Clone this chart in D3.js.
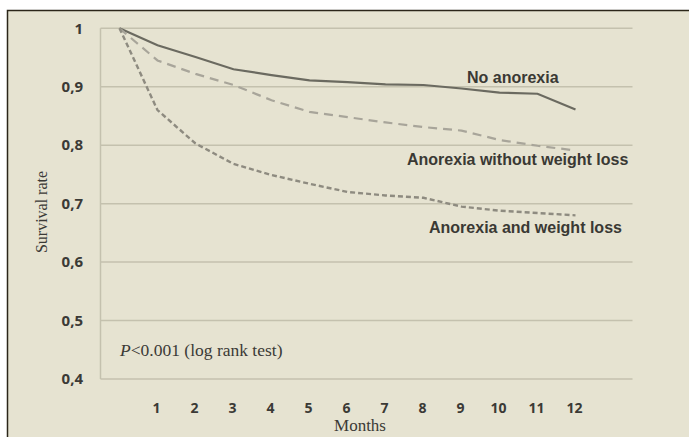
<!DOCTYPE html>
<html>
<head>
  <meta charset="utf-8"/>
  <title>Survival rate</title>
  <script src="https://cdn.jsdelivr.net/npm/d3@7"></script>
<style>
body { margin: 0; background: #fff; }
.chart text.tick-label { font-weight: bold; font-family: "Open Sans", sans-serif; fill: #3b3a36; }
.chart text.series-label { font: bold 16px "Liberation Sans", Arial, sans-serif; fill: #3a3934; }
.chart text.serif { font-family: "Liberation Serif", "Times New Roman", serif; fill: #3b3a36; }
</style>
</head>
<body>
  <svg id="chart" class="chart"></svg>

  <script>
    // months 0..12
    var months = [0, 1, 2, 3, 4, 5, 6, 7, 8, 9, 10, 11, 12];
    var noAnorexia = [1, 0.971, 0.951, 0.930, 0.920, 0.911, 0.908, 0.904, 0.903, 0.897, 0.890, 0.888, 0.861];
    var anorexiaNoLoss = [1, 0.945, 0.922, 0.903, 0.877, 0.857, 0.848, 0.839, 0.831, 0.825, 0.809, 0.799, 0.791];
    var anorexiaLoss = [1, 0.860, 0.803, 0.768, 0.749, 0.734, 0.720, 0.714, 0.710, 0.695, 0.688, 0.684, 0.680];
    var seriesNames = ["No anorexia", "Anorexia without weight loss", "Anorexia and weight loss"];
    var yTicks = [0.4, 0.5, 0.6, 0.7, 0.8, 0.9, 1];
    var xTicks = [1, 2, 3, 4, 5, 6, 7, 8, 9, 10, 11, 12];

    var width = 689, height = 437;

    var svg = d3.select("#chart")
        .attr("width", width)
        .attr("height", height);

    // beige panel with dark frame on top and left
    svg.append("rect")
        .attr("x", 7).attr("y", 10)
        .attr("width", width - 7).attr("height", height - 10)
        .attr("fill", "#e6e3d1");
    svg.append("path")
        .attr("d", "M7.5," + height + "V10.5H" + width)
        .attr("fill", "none")
        .attr("stroke", "#2b2619")
        .attr("stroke-width", 1.5);

    var x = d3.scaleLinear().domain([-0.5, 13.5]).range([100.5, 632.5]);
    var y = d3.scaleLinear().domain([0.4, 1]).range([379, 28.3]);

    // gridlines
    svg.append("g")
      .selectAll("line")
      .data(yTicks)
      .join("line")
        .attr("x1", x(-0.5)).attr("x2", x(13.5))
        .attr("y1", function(d) { return y(d); })
        .attr("y2", function(d) { return y(d); })
        .attr("stroke", "#c4c1ae")
        .attr("stroke-width", 1.5);

    svg.append("line")
        .attr("x1", x(-0.5)).attr("x2", x(-0.5))
        .attr("y1", y(1)).attr("y2", y(0.4))
        .attr("stroke", "#c4c1ae")
        .attr("stroke-width", 1.5);

    // y tick labels
    var fmt = function(d) { return d === 1 ? "1" : d3.format(".1f")(d).replace(".", ","); };
    svg.append("g")
      .selectAll("text")
      .data(yTicks)
      .join("text")
        .attr("class", "tick-label")
        .attr("font-size", 15)
        .attr("x", 83)
        .attr("y", function(d) { return y(d); })
        .attr("dy", "0.35em")
        .attr("text-anchor", "end")
        .text(fmt);

    // x tick labels
    svg.append("g")
      .selectAll("text")
      .data(xTicks)
      .join("text")
        .attr("class", "tick-label")
        .attr("font-size", 14)
        .attr("x", function(d) { return x(d) - 1; })
        .attr("y", 413)
        .attr("text-anchor", "middle")
        .text(function(d) { return d; });

    // axis titles
    svg.append("text")
        .attr("class", "serif")
        .attr("transform", "translate(47,212) rotate(-90)")
        .attr("text-anchor", "middle")
        .attr("font-size", 16)
        .text("Survival rate");

    svg.append("text")
        .attr("class", "serif")
        .attr("x", 360).attr("y", 431)
        .attr("text-anchor", "middle")
        .attr("font-size", 17)
        .text("Months");

    var pText = svg.append("text")
        .attr("class", "serif")
        .attr("x", 120).attr("y", 356)
        .attr("font-size", 17.5)
        .attr("fill", "#55534c");
    pText.append("tspan").attr("font-style", "italic").text("P");
    pText.append("tspan").text("<0.001 (log rank test)");

    // survival curves
    var line = d3.line()
        .x(function(d, i) { return x(months[i]); })
        .y(function(d) { return y(d); });

    svg.append("path")
        .datum(noAnorexia)
        .attr("d", line)
        .attr("fill", "none")
        .attr("stroke", "#6b6a60")
        .attr("stroke-width", 2.2);

    svg.append("path")
        .datum(anorexiaNoLoss)
        .attr("d", line)
        .attr("fill", "none")
        .attr("stroke", "#a8a59a")
        .attr("stroke-width", 2.2)
        .attr("stroke-dasharray", "9,6");

    svg.append("path")
        .datum(anorexiaLoss)
        .attr("d", line)
        .attr("fill", "none")
        .attr("stroke", "#8e8b80")
        .attr("stroke-width", 2.4)
        .attr("stroke-dasharray", "5,3");

    // series labels
    var labelPos = [[467, 83], [407, 165], [429, 233]];
    svg.append("g")
      .selectAll("text")
      .data(seriesNames)
      .join("text")
        .attr("class", "series-label")
        .attr("x", function(d, i) { return labelPos[i][0]; })
        .attr("y", function(d, i) { return labelPos[i][1]; })
        .text(function(d) { return d; });
  </script>
</body>
</html>
